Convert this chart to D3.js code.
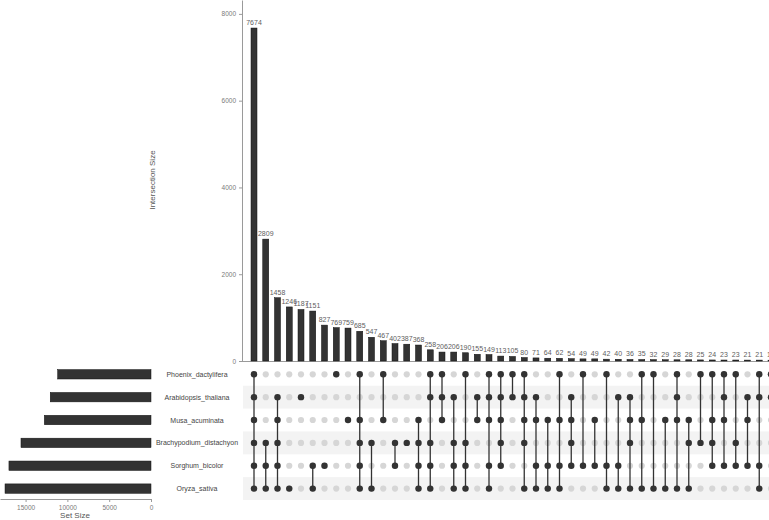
<!DOCTYPE html>
<html><head><meta charset="utf-8">
<script src="https://cdn.jsdelivr.net/npm/d3@7"></script>
<style>html,body{margin:0;padding:0;background:#fff;overflow:hidden}</style>
</head><body><svg id="c" width="769" height="520"></svg>
<script>
const setNames = ["Phoenix_dactylifera","Arabidopsis_thaliana","Musa_acuminata","Brachypodium_distachyon","Sorghum_bicolor","Oryza_sativa"];
const setCodes = ["P","A","M","B","S","O"];
const setSizes = [11160, 12050, 12760, 15550, 16990, 17460];
const intersectionSizes = [7674,2809,1458,1246,1187,1151,827,769,759,685,547,467,402,387,368,258,206,206,190,155,149,113,105,80,71,64,62,54,49,49,42,40,36,35,32,29,28,28,25,24,23,23,21,21,19];
const intersectionSets = ["PAMBSO","BSO","AMBSO","O","A","SO","S","P","M","PMBSO","BO","PM","BS","B","MBSO","PABSO","PAM","ABSO","PBSO","AM","PAMSO","PAMBS","PA","PAMBO","AMSO","MSO","PMSO","AMBS","PS","MS","PSO","ASO","AMBO","PMO","PO","MO","PAMO","MBO","PB","PMBS","PAMS","PBS","AMS","PASO","PA"];
const yTicks = [0,2000,4000,6000,8000];
const setSizeTicks = [0,5000,10000,15000];

const svg = d3.select("#c");
const font = "'Liberation Sans', Arial, sans-serif";
const n = intersectionSizes.length;
const step = 11.75;
const x = d3.scaleBand().domain(d3.range(n)).range([254 - step/2, 254 - step/2 + step*n]).padding(0);
const cx = i => x(i) + x.bandwidth()/2;
const y = d3.scaleLinear().domain([0, 8320]).range([361, 0]);
const rowY = d3.scalePoint().domain(setCodes).range([374.3, 488.6]);
const sx = d3.scaleLinear().domain([0, 18060]).range([151, 0]);
const dark = "#333333";
const fmt = d3.format("d");

// stripes
svg.append("g").selectAll("rect").data(setCodes.filter((d,i)=>i%2===1)).join("rect")
  .attr("x", 243).attr("width", 530)
  .attr("y", d => rowY(d) - 11.45).attr("height", 22.9)
  .attr("fill", "#f3f3f3");

// top y axis
const ya = svg.append("g").attr("transform","translate(242,0)")
  .call(d3.axisLeft(y).tickValues(yTicks).tickFormat(fmt).tickSize(3).tickSizeOuter(0));
ya.select(".domain").attr("stroke","#9a9a9a");
ya.selectAll(".tick line").attr("stroke","#9a9a9a");
ya.selectAll("text").attr("font-family",font).attr("font-size","6.5px").attr("fill","#7a7a7a");

// baseline
svg.append("line").attr("x1",242).attr("x2",769).attr("y1",361.5).attr("y2",361.5)
  .attr("stroke","#9a9a9a").attr("stroke-width",1);

// bars
svg.append("g").selectAll("rect").data(intersectionSizes).join("rect")
  .attr("x",(d,i)=>cx(i)-3).attr("width",6)
  .attr("y",d=>y(d)).attr("height",d=>361-y(d))
  .attr("fill",dark).attr("stroke","#111").attr("stroke-width",0.5);

// bar labels
svg.append("g").selectAll("text").data(intersectionSizes).join("text")
  .attr("x",(d,i)=>cx(i)).attr("y",d=>y(d)-3)
  .attr("text-anchor","middle").attr("font-family",font).attr("font-size","7px")
  .attr("fill","#606060").text(d=>d);

// y title
svg.append("text").attr("transform","translate(155,180) rotate(-90)")
  .attr("text-anchor","middle").attr("font-family",font).attr("font-size","8px")
  .attr("fill","#555").text("Intersection Size");

// matrix
const mg = svg.append("g");
intersectionSets.forEach((s,i)=>{
  setCodes.forEach(c=>{
    mg.append("circle").attr("cx",cx(i)).attr("cy",rowY(c)).attr("r",3.1)
      .attr("fill", "#d6d6d6");
  });
  const act = setCodes.filter(c=>s.includes(c));
  if (act.length>1){
    mg.append("line").attr("x1",cx(i)).attr("x2",cx(i))
      .attr("y1",rowY(act[0])).attr("y2",rowY(act[act.length-1]))
      .attr("stroke",dark).attr("stroke-width",1.3);
  }
  act.forEach(c=>{
    mg.append("circle").attr("cx",cx(i)).attr("cy",rowY(c)).attr("r",3.2).attr("fill",dark);
  });
});

// set size bars
svg.append("g").selectAll("rect").data(setSizes).join("rect")
  .attr("x",d=>sx(d)).attr("width",d=>151-sx(d))
  .attr("y",(d,i)=>rowY(setCodes[i])-4.7).attr("height",9.4)
  .attr("fill",dark).attr("stroke","#111").attr("stroke-width",0.5);

const sa = svg.append("g").attr("transform","translate(0,499)")
  .call(d3.axisBottom(sx).tickValues(setSizeTicks).tickFormat(fmt).tickSize(3).tickSizeOuter(0));
sa.select(".domain").attr("stroke","#9a9a9a");
sa.selectAll(".tick line").attr("stroke","#9a9a9a");
sa.selectAll("text").attr("font-family",font).attr("font-size","6.5px").attr("fill","#7a7a7a");

svg.append("text").attr("x",75).attr("y",518).attr("text-anchor","middle")
  .attr("font-family",font).attr("font-size","8px").attr("fill","#555").text("Set Size");

// set names
svg.append("g").selectAll("text").data(setNames).join("text")
  .attr("x",197).attr("y",(d,i)=>rowY(setCodes[i])+2.5)
  .attr("text-anchor","middle").attr("font-family",font).attr("font-size","7px")
  .attr("fill","#444").text(d=>d);
</script></body></html>
